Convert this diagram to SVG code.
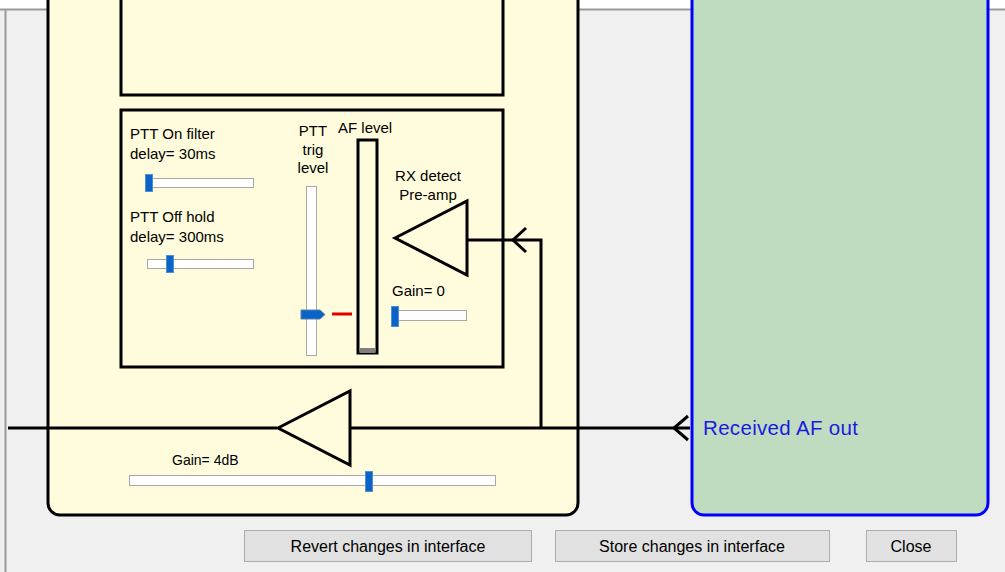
<svg xmlns="http://www.w3.org/2000/svg" width="1005" height="572" viewBox="0 0 1005 572">
<defs>
<style>
.lbl{font-family:"Liberation Sans",Arial,sans-serif;font-size:15px;fill:#000}
.sm{font-size:14px}
.bt{font-size:16px}
.box{fill:none;stroke:#000;stroke-width:3}
.wire{fill:none;stroke:#000;stroke-width:3}
.track{fill:#fff;stroke:#a8a8a8;stroke-width:1}
.thumb{fill:#0a64c8;stroke:#4f8fd8;stroke-width:1}
.btn{fill:#e1e1e1;stroke:#adadad;stroke-width:1}
</style>
</defs>
<rect x="0" y="0" width="1005" height="572" fill="#f0f0f0"/>
<rect x="0" y="0" width="1005" height="9" fill="#fff"/>
<line x1="0" y1="9.5" x2="1005" y2="9.5" stroke="#999" stroke-width="2"/>
<line x1="5.5" y1="10" x2="5.5" y2="572" stroke="#999" stroke-width="2"/>

<g id="tx-panel">
<rect x="48" y="-20" width="530" height="535" rx="12" fill="#fefcdc" stroke="#000" stroke-width="3"/>
</g>
<g id="top-box"><rect x="121" y="-10" width="382" height="105" class="box"/></g>
<g id="ptt-box"><rect x="121" y="110" width="382" height="257" class="box"/></g>

<g id="rx-panel">
<rect x="692" y="-20" width="296" height="535" rx="12" fill="#c0dcc0" stroke="#0000ff" stroke-width="3"/>
<text x="703" y="435" textLength="155" style="font-family:'Liberation Sans',Arial,sans-serif;font-size:20.5px;fill:#1a1ae0">Received AF out</text>
</g>

<g id="connectors">
<path class="wire" d="M8 428H277"/>
<path class="wire" d="M350 428H690"/>
<path class="wire" d="M688 416L674 428L688 440"/>
<path class="wire" d="M541 428V240H467"/>
<path class="wire" d="M526 228L513 240L526 252"/>
</g>

<g id="main-amp">
<path class="wire" d="M278 428L350 391V465Z"/>
<text class="lbl sm" x="172" y="465">Gain= 4dB</text>
<rect class="track" x="129.5" y="475.5" width="366" height="10"/>
<rect class="thumb" x="365.5" y="471.5" width="7" height="20"/>
</g>

<g id="preamp">
<path class="wire" d="M395 238L467 201V275Z"/>
<text class="lbl" x="428" y="181" text-anchor="middle">RX detect</text>
<text class="lbl" x="428" y="200" text-anchor="middle">Pre-amp</text>
<text class="lbl" x="392" y="296">Gain= 0</text>
<rect class="track" x="391.5" y="310.5" width="75" height="10"/>
<rect class="thumb" x="391.5" y="306.5" width="7" height="20"/>
</g>

<g id="ptt-on">
<text class="lbl" x="130" y="139">PTT On filter</text>
<text class="lbl" x="130" y="159">delay= 30ms</text>
<rect class="track" x="145.5" y="178.5" width="108" height="9"/>
<rect class="thumb" x="145.5" y="174.5" width="7" height="17"/>
</g>

<g id="ptt-off">
<text class="lbl" x="130" y="222">PTT Off hold</text>
<text class="lbl" x="130" y="242">delay= 300ms</text>
<rect class="track" x="147.5" y="259.5" width="106" height="9"/>
<rect class="thumb" x="166.5" y="255.5" width="7" height="17"/>
</g>

<g id="ptt-trig">
<text class="lbl" x="313" y="136" text-anchor="middle">PTT</text>
<text class="lbl" x="313" y="155" text-anchor="middle">trig</text>
<text class="lbl" x="313" y="173" text-anchor="middle">level</text>
<rect class="track" x="306.5" y="186.5" width="10" height="169"/>
<path d="M301 310H320L325 314.5L320 319H301Z" fill="#0a64c8" stroke="#5a7fa8" stroke-width="1"/>
<line x1="332" y1="314" x2="352" y2="314" stroke="#e00000" stroke-width="3"/>
</g>

<g id="af-level">
<text class="lbl" x="338" y="133">AF level</text>
<rect x="358" y="140" width="19" height="213" fill="#fefcdc" stroke="#000" stroke-width="3"/>
<rect x="359.5" y="348" width="16" height="5" fill="#808080"/>
</g>

<g id="btn-revert">
<rect class="btn" x="244.5" y="530.5" width="287" height="31"/>
<text class="lbl bt" x="388" y="552" text-anchor="middle">Revert changes in interface</text>
</g>
<g id="btn-store">
<rect class="btn" x="555.5" y="530.5" width="274" height="31"/>
<text class="lbl bt" x="692" y="552" text-anchor="middle">Store changes in interface</text>
</g>
<g id="btn-close">
<rect class="btn" x="866.5" y="530.5" width="90" height="31"/>
<text class="lbl bt" x="911" y="552" text-anchor="middle">Close</text>
</g>
</svg>
